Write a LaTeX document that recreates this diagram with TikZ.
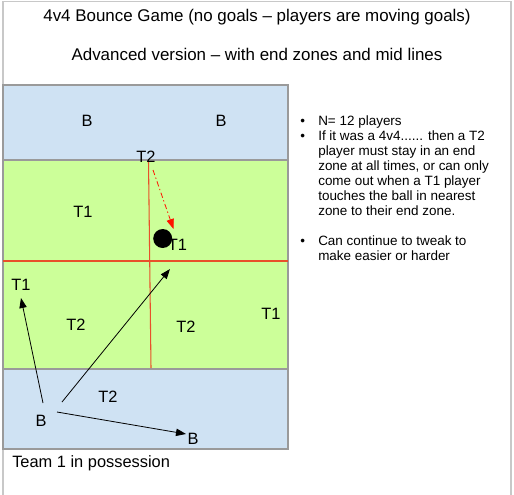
\documentclass[tikz,border=0pt]{standalone}
\usepackage{fontspec}
\setmainfont{Liberation Sans}
\usetikzlibrary{arrows.meta}
\definecolor{zoneblue}{HTML}{CFE2F3}
\definecolor{fieldgreen}{HTML}{CCFF99}
\definecolor{fieldgray}{HTML}{9A9A9A}
\definecolor{framegray}{HTML}{C8C8C8}
\definecolor{lineRed}{HTML}{E8502A}
\tikzset{
  lbl/.style={font=\fontsize{12.3}{14}\selectfont, inner sep=0pt},
  pass/.style={draw=black, line width=0.6pt, -{Triangle[length=7.5pt,width=5.5pt]}},
  run/.style={draw=red!85!orange, line width=0.6pt, dash pattern=on 4pt off 2pt on 1pt off 2pt, -{Triangle[length=7.5pt,width=5.5pt]}},
}
\begin{document}
\begin{tikzpicture}[x=0.75pt,y=-0.75pt]
\useasboundingbox (0,0) rectangle (514,494);
% outer frame
\draw[framegray, line width=1pt] (3,500) -- (3,1.5) -- (511,1.5) -- (511,500);
% title
\node[lbl, font=\fontsize{12.7}{14}\selectfont] (title) at (257,17) {4v4 Bounce Game (no goals – players are moving goals)};
\node[lbl, font=\fontsize{12.7}{14}\selectfont] (sub) at (257,54) {Advanced version – with end zones and mid lines};
% field
\fill[zoneblue] (3,85) rectangle (288,160);
\fill[fieldgreen] (3,160) rectangle (288,369);
\fill[zoneblue] (3,369) rectangle (288,449);
\draw[fieldgray, line width=1pt] (3,160) -- (288,160) (3,369) -- (288,369);
\draw[fieldgray, line width=1.2pt] (3,85) rectangle (288,449);
% mid lines
\draw[lineRed, line width=0.8pt] (3,261) -- (288,261);
\draw[lineRed, line width=0.8pt] (148.5,161) -- (151,368);
% labels
\node[lbl] (b1) at (87,121) {B};
\node[lbl] (b2) at (221,121) {B};
\node[lbl] (t2top) at (146,157) {T2};
\node[lbl] (t1a) at (83,212) {T1};
\node[circle, fill=black, minimum size=14.25pt, inner sep=0pt] (ball) at (162.7,238.5) {};
\node[lbl] (t1ball) at (177.5,244.5) {T1};
\node[lbl] (t1left) at (21,285) {T1};
\node[lbl] (t2l) at (76,325) {T2};
\node[lbl] (t2r) at (186,327) {T2};
\node[lbl] (t1right) at (271,314) {T1};
\node[lbl] (t2bot) at (108,397) {T2};
\node[lbl] (bbl) at (41,421) {B};
\node[lbl] (bbr) at (193,439) {B};
\node[lbl, anchor=west] (team) at (12,463) {Team 1 in possession};
% arrow ends
\coordinate (r1) at (153,170);
\coordinate (r2) at (173.5,229);
\coordinate (p1s) at (43,403);
\coordinate (p1e) at (21,298);
\coordinate (p2s) at (62,402);
\coordinate (p2e) at (170,269);
\coordinate (p3s) at (57,412);
\coordinate (p3e) at (186,434);
\draw[run] (r1) -- (r2);
\draw[pass] (p1s) -- (p1e);
\draw[pass] (p2s) -- (p2e);
\draw[pass] (p3s) -- (p3e);
% bullets
\node[anchor=north west, inner sep=0pt, font=\fontsize{10.1}{11.25}\selectfont, align=left] (notes) at (300,115) {%
\makebox[13.5pt][l]{•}N= 12 players\\
\makebox[13.5pt][l]{•}If it was a 4v4...... then a T2\\
\hspace*{13.5pt}player must stay in an end\\
\hspace*{13.5pt}zone at all times, or can only\\
\hspace*{13.5pt}come out when a T1 player\\
\hspace*{13.5pt}touches the ball in nearest\\
\hspace*{13.5pt}zone to their end zone.\\[11.25pt]
\makebox[13.5pt][l]{•}Can continue to tweak to\\
\hspace*{13.5pt}make easier or harder};
\end{tikzpicture}
\end{document}
